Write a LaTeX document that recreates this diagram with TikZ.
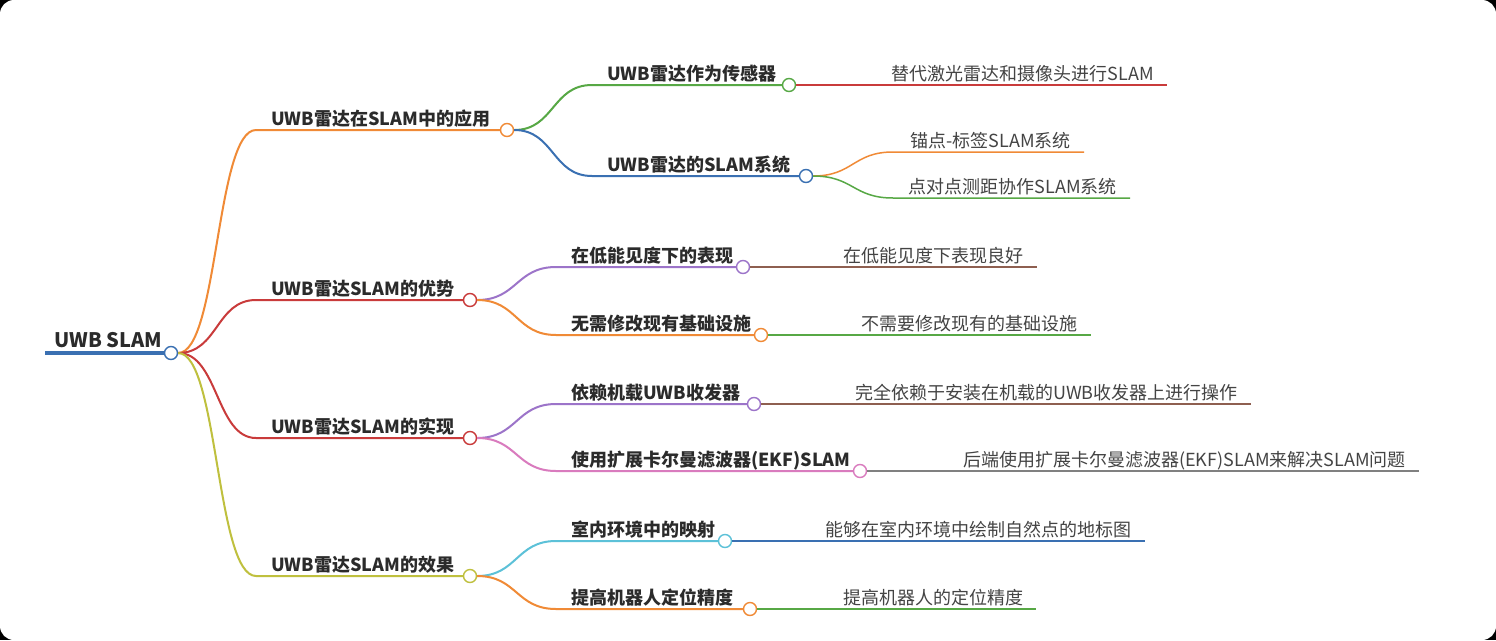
\documentclass[tikz,border=0pt]{standalone}
\usepackage{fontspec}
\setmainfont{Noto Sans CJK SC}
\definecolor{cblue}{HTML}{3A70B2}
\definecolor{corange}{HTML}{F08A36}
\definecolor{cred}{HTML}{C93B3B}
\definecolor{colive}{HTML}{BFC03E}
\definecolor{cgreen}{HTML}{57A845}
\definecolor{cpurple}{HTML}{9C74C9}
\definecolor{cpink}{HTML}{D97BBE}
\definecolor{ccyan}{HTML}{5CC1D8}
\definecolor{cbrown}{HTML}{8E5F50}
\definecolor{cgray}{HTML}{808080}
\definecolor{txt}{HTML}{2B2B2B}
\definecolor{leaftxt}{HTML}{444444}
\tikzset{
  circ/.style={circle, draw, fill=white, line width=1.4pt, minimum size=13pt, inner sep=0pt},
  edge/.style={line width=2pt},
  leafedge/.style={line width=1.5pt},
  lbl/.style={font=\fontsize{18}{20}\selectfont\bfseries, text=txt, anchor=base west, inner sep=0pt},
  leaf/.style={font=\fontsize{18}{20}\selectfont, text=leaftxt, anchor=base east, inner sep=0pt},
  rootlbl/.style={font=\fontsize{20}{22}\selectfont\bfseries, text=txt, anchor=base, inner sep=0pt},
}
\begin{document}
\begin{tikzpicture}[x=1pt,y=-1pt]
\useasboundingbox (0,0) rectangle (1496,640);
\fill[black] (0,0) rectangle (1496,640);
\fill[white, rounded corners=14pt] (0,0) rectangle (1496,640);

% root
\coordinate (r0) at (45,353);
\node[circ, draw=cblue] (r) at (171,353) {};
\node[rootlbl] (rt) at (108,347) {UWB SLAM};
\draw[cblue, line width=4pt] (r0) -- (r.west);

% level 1
\coordinate (As) at (256,130);
\node[circ, draw=corange] (A) at (507,130) {};
\node[lbl] (At) at (271,125) {UWB雷达在SLAM中的应用};
\draw[edge, corange] (r.east) .. controls +(40,0) and +(-40,0) .. (As) -- (A.west);

\coordinate (Bs) at (256,300);
\node[circ, draw=cred] (B) at (470,300) {};
\node[lbl] (Bt) at (271,295) {UWB雷达SLAM的优势};
\draw[edge, cred] (r.east) .. controls +(40,0) and +(-40,0) .. (Bs) -- (B.west);

\coordinate (Cs) at (256,438);
\node[circ, draw=cred] (C) at (470,438) {};
\node[lbl] (Ct) at (271,433) {UWB雷达SLAM的实现};
\draw[edge, cred] (r.east) .. controls +(40,0) and +(-40,0) .. (Cs) -- (C.west);

\coordinate (Ds) at (256,576);
\node[circ, draw=colive] (D) at (470,576) {};
\node[lbl] (Dt) at (271,571) {UWB雷达SLAM的效果};
\draw[edge, colive] (r.east) .. controls +(40,0) and +(-40,0) .. (Ds) -- (D.west);

% level 2 under A
\coordinate (A1s) at (592,85);
\node[circ, draw=cgreen] (A1) at (789,85) {};
\node[lbl] (A1t) at (607,80) {UWB雷达作为传感器};
\draw[edge, cgreen] (A.east) .. controls +(40,0) and +(-40,0) .. (A1s) -- (A1.west);

\coordinate (A2s) at (592,176);
\node[circ, draw=cblue] (A2) at (806,176) {};
\node[lbl] (A2t) at (607,171) {UWB雷达的SLAM系统};
\draw[edge, cblue] (A.east) .. controls +(40,0) and +(-40,0) .. (A2s) -- (A2.west);

% level 2 under B
\coordinate (B1s) at (556,267);
\node[circ, draw=cpurple] (B1) at (743,267) {};
\node[lbl] (B1t) at (571,262) {在低能见度下的表现};
\draw[edge, cpurple] (B.east) .. controls +(40,0) and +(-40,0) .. (B1s) -- (B1.west);

\coordinate (B2s) at (556,335);
\node[circ, draw=corange] (B2) at (761,335) {};
\node[lbl] (B2t) at (571,330) {无需修改现有基础设施};
\draw[edge, corange] (B.east) .. controls +(40,0) and +(-40,0) .. (B2s) -- (B2.west);

% level 2 under C
\coordinate (C1s) at (556,404);
\node[circ, draw=cpurple] (C1) at (754,404) {};
\node[lbl] (C1t) at (571,399) {依赖机载UWB收发器};
\draw[edge, cpurple] (C.east) .. controls +(40,0) and +(-40,0) .. (C1s) -- (C1.west);

\coordinate (C2s) at (556,471);
\node[circ, draw=cpink] (C2) at (860,471) {};
\node[lbl] (C2t) at (571,466) {使用扩展卡尔曼滤波器(EKF)SLAM};
\draw[edge, cpink] (C.east) .. controls +(40,0) and +(-40,0) .. (C2s) -- (C2.west);

% level 2 under D
\coordinate (D1s) at (556,541);
\node[circ, draw=ccyan] (D1) at (725,541) {};
\node[lbl] (D1t) at (571,536) {室内环境中的映射};
\draw[edge, ccyan] (D.east) .. controls +(40,0) and +(-40,0) .. (D1s) -- (D1.west);

\coordinate (D2s) at (556,609);
\node[circ, draw=corange] (D2) at (750,609) {};
\node[lbl] (D2t) at (571,604) {提高机器人定位精度};
\draw[edge, corange] (D.east) .. controls +(40,0) and +(-40,0) .. (D2s) -- (D2.west);

% leaves
\coordinate (A1e) at (1167,85);
\node[leaf] (A1l) at (1154,80) {替代激光雷达和摄像头进行SLAM};
\draw[leafedge, cred] (A1.east) -- (A1e);

\coordinate (A2as) at (893,152);
\coordinate (A2ae) at (1084,152);
\node[leaf] (A2al) at (1071,147) {锚点-标签SLAM系统};
\draw[leafedge, corange] (A2.east) .. controls +(40,0) and +(-40,0) .. (A2as) -- (A2ae);

\coordinate (A2bs) at (893,198);
\coordinate (A2be) at (1130,198);
\node[leaf] (A2bl) at (1117,193) {点对点测距协作SLAM系统};
\draw[leafedge, cgreen] (A2.east) .. controls +(40,0) and +(-40,0) .. (A2bs) -- (A2be);

\coordinate (B1e) at (1037,267);
\node[leaf] (B1l) at (1024,262) {在低能见度下表现良好};
\draw[leafedge, cbrown] (B1.east) -- (B1e);

\coordinate (B2e) at (1091,335);
\node[leaf] (B2l) at (1078,330) {不需要修改现有的基础设施};
\draw[leafedge, cgreen] (B2.east) -- (B2e);

\coordinate (C1e) at (1251,404);
\node[leaf] (C1l) at (1238,399) {完全依赖于安装在机载的UWB收发器上进行操作};
\draw[leafedge, cbrown] (C1.east) -- (C1e);

\coordinate (C2e) at (1419,471);
\node[leaf] (C2l) at (1406,466) {后端使用扩展卡尔曼滤波器(EKF)SLAM来解决SLAM问题};
\draw[leafedge, cgray] (C2.east) -- (C2e);

\coordinate (D1e) at (1145,541);
\node[leaf] (D1l) at (1132,536) {能够在室内环境中绘制自然点的地标图};
\draw[leafedge, cblue] (D1.east) -- (D1e);

\coordinate (D2e) at (1036,609);
\node[leaf] (D2l) at (1024,604) {提高机器人的定位精度};
\draw[leafedge, cgreen] (D2.east) -- (D2e);
\end{tikzpicture}
\end{document}
